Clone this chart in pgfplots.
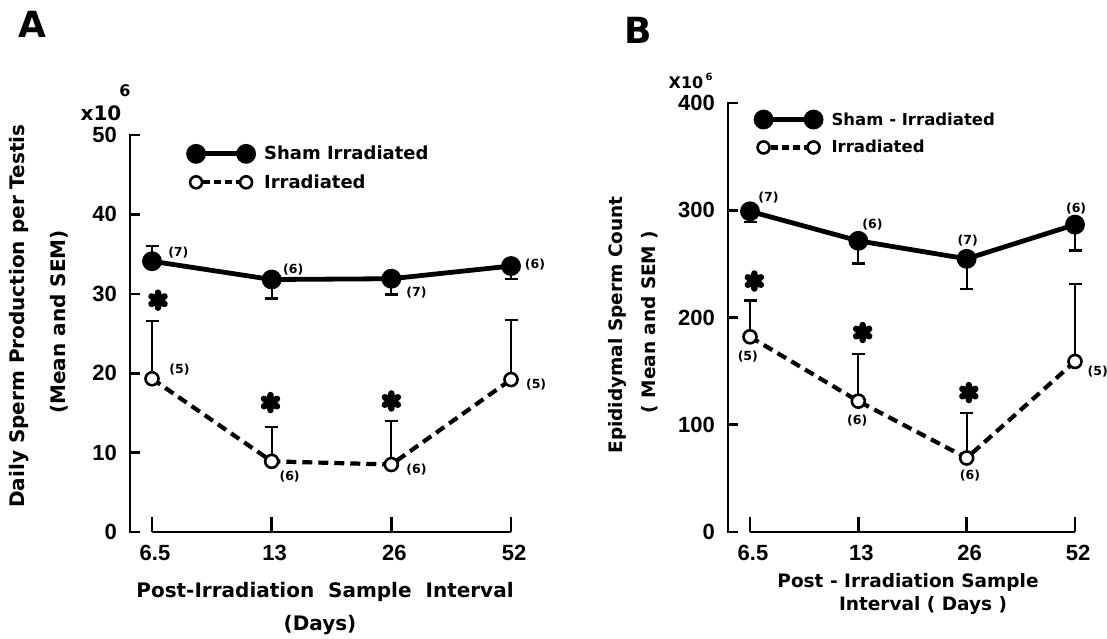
\documentclass[border=0pt]{standalone}
\usepackage{fontspec}
\setmainfont{Liberation Sans}
\newfontfamily\lab{DejaVu Sans}
\usepackage{pgfplots}
\pgfplotsset{compat=1.18}
\begin{document}
\begin{tikzpicture}[x=1pt,y=1pt]
\path[use as bounding box] (0,0) rectangle (1107,638);
\pgfplotsset{
  panel/.style={
    scale only axis, clip=false,
    axis y line*=left, axis x line*=bottom,
    x axis line style={draw=none},
    y axis line style={line width=2.6pt, line cap=rect},
    xtick={0,1,2,3}, xticklabels={6.5,13,26,52},
    tick align=inside,
    major tick length=10pt,
    xtick style={/pgfplots/major tick length=15pt},
    tick style={line width=2.6pt, black},
    ticklabel style={font=\fontsize{22}{22}\selectfont\bfseries},
    /pgf/number format/assume math mode=true,
    xticklabel style={anchor=center, yshift=-21pt, xshift=3pt},
    yticklabel style={anchor=east, inner sep=0pt, xshift=-13pt},
    legend cell align=left,
    legend style={draw=none, fill=none, inner sep=0pt, row sep=9pt,
      nodes={inner sep=2pt}},
  },
  shamline/.style={black, line width=4.8pt, mark=*, mark size=7.5pt,
    error bars/y dir=both, error bars/y explicit,
    error bars/error bar style={line width=2.2pt, solid},
    error bars/error mark options={rotate=90, mark size=6.5pt, line width=2.4pt, solid}},
  irrline/.style={black, line width=4.2pt, dash pattern=on 10pt off 6pt,
    mark=*, mark size=6.5pt, mark options={solid, fill=white, draw=black, line width=2.6pt},
    error bars/y dir=plus, error bars/y explicit,
    error bars/error bar style={line width=2.2pt, solid},
    error bars/error mark options={rotate=90, mark size=6.5pt, line width=2.4pt, solid}},
  astr/.style={only marks, black, mark=asterisk, mark size=7.5pt,
    mark options={line width=6.5pt, line cap=round, solid}, forget plot},
  shamleg/.style={legend image code/.code={
    \path[draw=none, fill=none] (-8pt,-8pt) rectangle (66pt,8pt);
    \draw[line width=4.8pt, solid] (0pt,0pt) -- (50pt,0pt);
    \fill (0pt,0pt) circle (7.5pt); \fill (50pt,0pt) circle (7.5pt);}},
  irrleg/.style={legend image code/.code={
    \path[draw=none, fill=none] (-8pt,-8pt) rectangle (66pt,8pt);
    \draw[line width=4.2pt, dash pattern=on 7pt off 4pt] (7pt,0pt) -- (43pt,0pt);
    \draw[line width=2.6pt, fill=white, solid] (0pt,0pt) circle (6pt);
    \draw[line width=2.6pt, fill=white, solid] (50pt,0pt) circle (6pt);}},
}
% ---------------- Panel A ----------------
\begin{axis}[panel, at={(130pt,106pt)}, anchor=south west,
  width=381pt, height=397pt, xmin=-0.184, xmax=3, ymin=0, ymax=50,
  ytick={0,10,20,30,40,50},
  legend style={at={(axis cs:0.284,48.9)}, anchor=north west,
    font=\fontsize{18}{18}\selectfont\lab\bfseries}]
\draw[line width=2.6pt] (axis cs:0,0) -- (axis cs:3,0);
\addplot[shamleg, shamline] coordinates {
 (0,34.1) += (0,1.9) -= (0,0)
 (1,31.8) += (0,0) -= (0,2.4)
 (2,31.9) += (0,0) -= (0,2.0)
 (3,33.5) += (0,0) -= (0,1.6)};
\addlegendentry{Sham Irradiated}
\addplot[irrleg, irrline] coordinates {
 (0,19.3) +- (0,7.3)
 (1,8.9) +- (0,4.3)
 (2,8.5) +- (0,5.5)
 (3,19.2) +- (0,7.5)};
\addlegendentry{Irradiated}
\addplot[astr] coordinates {(0.05,29.2) (0.99,16.3) (2.0,16.5)};
\begin{scope}[font=\fontsize{12.5}{12.5}\selectfont\lab\bfseries]
\node at (axis cs:0.22,35.2) {(7)};
\node at (axis cs:1.18,33.1) {(6)};
\node at (axis cs:2.21,30.2) {(7)};
\node at (axis cs:3.20,33.7) {(6)};
\node at (axis cs:0.23,20.4) {(5)};
\node at (axis cs:1.15,7.0) {(6)};
\node at (axis cs:2.21,7.8) {(6)};
\node at (axis cs:3.21,18.6) {(5)};
\end{scope}
\end{axis}
% ---------------- Panel B ----------------
\begin{axis}[panel, at={(728pt,106pt)}, anchor=south west,
  width=347pt, height=429pt, xmin=-0.203, xmax=3, ymin=0, ymax=400,
  ytick={0,100,200,300,400},
  legend style={at={(axis cs:0.032,394)}, anchor=north west,
    font=\fontsize{16.5}{16.5}\selectfont\lab\bfseries}]
\draw[line width=2.6pt] (axis cs:0,0) -- (axis cs:3,0);
\addplot[shamleg, shamline] coordinates {
 (0,299) += (0,0) -= (0,10)
 (1,271.5) += (0,0) -= (0,21)
 (2,254.7) += (0,0) -= (0,28)
 (3,286.6) += (0,0) -= (0,24)};
\addlegendentry{Sham - Irradiated}
\addplot[irrleg, irrline] coordinates {
 (0,182) +- (0,34)
 (1,122) +- (0,44)
 (2,69) +- (0,42)
 (3,159) +- (0,72)};
\addlegendentry{Irradiated}
\addplot[astr] coordinates {(0.04,234) (1.04,186) (2.02,130)};
\begin{scope}[font=\fontsize{12.5}{12.5}\selectfont\lab\bfseries]
\node at (axis cs:0.17,312) {(7)};
\node at (axis cs:1.13,287) {(6)};
\node at (axis cs:2.01,272) {(7)};
\node at (axis cs:3.01,302) {(6)};
\node at (axis cs:-0.02,164) {(5)};
\node at (axis cs:0.99,104) {(6)};
\node at (axis cs:2.03,52.5) {(6)};
\node at (axis cs:3.21,150) {(5)};
\end{scope}
\end{axis}
% ---------------- Texts ----------------
\node[font=\fontsize{36}{36}\selectfont\lab\bfseries] at (32,614) {A};
\node[font=\fontsize{36}{36}\selectfont\lab\bfseries] at (638,608) {B};
% panel A labels
\node[inner sep=0pt, font=\fontsize{20}{20}\selectfont\lab\bfseries] at (101,525) {x10};
\node[inner sep=0pt, font=\fontsize{16}{16}\selectfont\lab\bfseries] at (125,547) {6};
\node[rotate=90, font=\fontsize{20}{20}\selectfont\lab\bfseries] at (19,322) {Daily Sperm Production per Testis};
\node[rotate=90, font=\fontsize{20}{20}\selectfont\lab\bfseries] at (59,316) {(Mean and SEM)};
\node[font=\fontsize{20}{20}\selectfont\lab\bfseries] at (325,46) {Post-Irradiation\ \ Sample\ \ Interval};
\node[font=\fontsize{20}{20}\selectfont\lab\bfseries] at (320,13) {(Days)};
% panel B labels
\node[inner sep=0pt, font=\fontsize{16}{16}\selectfont\lab\bfseries] at (686,555) {X10};
\node[inner sep=0pt, font=\fontsize{10}{10}\selectfont\lab\bfseries] at (709,561) {6};
\node[rotate=90, font=\fontsize{18.5}{18.5}\selectfont\lab\bfseries] at (617,313) {Epididymal Sperm Count};
\node[rotate=90, font=\fontsize{18.5}{18.5}\selectfont\lab\bfseries] at (650,316) {( Mean and SEM )};
\node[font=\fontsize{18.5}{18.5}\selectfont\lab\bfseries] at (908,56) {Post - Irradiation Sample};
\node[font=\fontsize{18.5}{18.5}\selectfont\lab\bfseries] at (923,33) {Interval ( Days )};
\end{tikzpicture}
\end{document}
